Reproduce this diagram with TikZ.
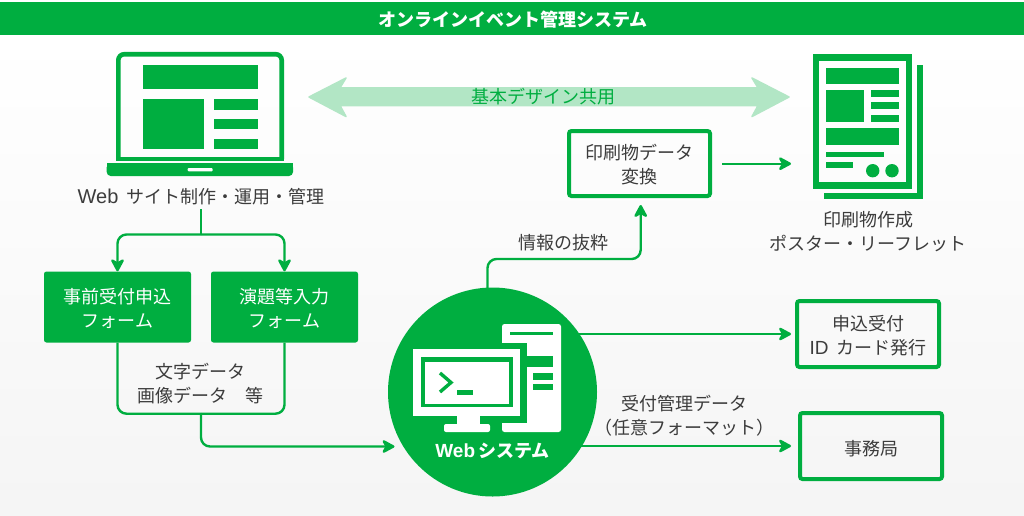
\documentclass[tikz,border=0pt]{standalone}
\usepackage{fontspec}
\setmainfont{Noto Sans CJK JP}
\newfontfamily\latinface{Liberation Sans}
\usetikzlibrary{arrows.meta}
\definecolor{brandgreen}{HTML}{00AE40}
\definecolor{palegreen}{HTML}{B2E6C5}
\definecolor{inktext}{HTML}{3C3C3C}
% taller first line: sets a multi-line label about a point lower in its box
\newcommand{\firstlinedrop}{\rule{0pt}{18pt}}
\tikzset{
  x=1pt,y=-1pt,
  arrowtip/.style={-{Stealth[length=15pt,width=16pt,inset=4.5pt,round]}},
  plainconn/.style={draw=brandgreen,line width=2.4pt,rounded corners=9pt},
  conn/.style={plainconn,arrowtip},
  formbox/.style={fill=brandgreen,rounded corners=2.5pt,minimum width=147pt,minimum height=71pt,text=white,font=\fontsize{18}{24}\selectfont,align=center,inner sep=0pt},
  outbox/.style={draw=brandgreen,line width=4pt,rounded corners=2.5pt,text=inktext,font=\fontsize{18}{24}\selectfont,align=center,inner sep=0pt,outer sep=0pt},
  lbl/.style={text=inktext,font=\fontsize{18}{24}\selectfont,align=center,inner sep=0pt},
}
\begin{document}
\begin{tikzpicture}
\useasboundingbox (0,0) rectangle (1024,515);
% page background and title band
\fill[white] (0,0) rectangle (1024,515);
\shade[top color=white,bottom color=black!4] (0,36) rectangle (1024,515);
\fill[brandgreen] (0,2) rectangle (1024,35);
\node[text=white,font=\fontsize{18}{20}\selectfont\bfseries,inner sep=0pt] (title) at (513,19.5) {オンラインイベント管理システム};

% laptop icon
\draw[brandgreen,line width=4.6pt,rounded corners=6pt] (118.3,159) -- (118.3,54.2) -- (281.7,54.2) -- (281.7,159);
\fill[brandgreen] (116,156.7) rectangle (284,160.7);
\fill[brandgreen,rounded corners=4pt] (106.7,163.3) -- (293,163.3) -- (293,176) -- (106.7,176) -- cycle;
\fill[brandgreen] (106.7,163.3) rectangle (293,168);
\fill[white,rounded corners=1pt] (187.7,168) rectangle (212.7,171.3);
\fill[brandgreen] (143,65) rectangle (258,89.3);
\fill[brandgreen] (143,99) rectangle (203.5,149);
\fill[brandgreen] (214,99) rectangle (258,109.5);
\fill[brandgreen] (214,119) rectangle (258,129);
\fill[brandgreen] (214,138.5) rectangle (258,149);
\node[lbl] (webops) at (201,197) {{\latinface\fontsize{20}{24}\selectfont Web}\hspace{8pt}サイト制作・運用・管理};

% shared design arrow
\fill[palegreen,draw=palegreen,line width=1.5pt,line join=round] (309,97) -- (346,78) -- (340,87.8) -- (758,87.8) -- (752,78) -- (789,97) -- (752,116.5) -- (758,105.5) -- (340,105.5) -- (346,116.5) -- cycle;
\node[text=brandgreen,font=\fontsize{18}{20}\selectfont,inner sep=0pt] (shared) at (543,97) {基本デザイン共用};

% printed matter icon
\draw[brandgreen,line width=6.4pt] (816,57.3) rectangle (908.8,185.5);
\fill[brandgreen] (916.7,65) rectangle (922.7,199.3);
\fill[brandgreen] (824,193.3) rectangle (922.7,199.3);
\fill[brandgreen] (826,68.3) rectangle (898.7,84);
\fill[brandgreen] (826,90) rectangle (864.3,121.7);
\fill[brandgreen] (870.7,90) rectangle (898.7,96.7);
\fill[brandgreen] (870.7,102.3) rectangle (898.7,109);
\fill[brandgreen] (870.7,115) rectangle (898.7,121.7);
\fill[brandgreen] (826,127.7) rectangle (898.7,145.3);
\fill[brandgreen] (826,151.7) rectangle (884.3,157);
\fill[brandgreen] (826,162.3) rectangle (852.7,167.7);
\fill[brandgreen] (872.7,170.7) circle (6.7);
\fill[brandgreen] (892,170.7) circle (6.7);
\node[lbl] (printlabel) at (868,232) {印刷物作成\\ポスター・リーフレット};

% entry forms and the flows around them
\node[formbox] (pre) at (117.5,307) {\firstlinedrop 事前受付申込\\フォーム};
\node[formbox] (abs) at (284.5,307) {\firstlinedrop 演題等入力\\フォーム};
\coordinate (webopsfoot) at (201,209);
\coordinate (split) at (201,234.5);
\draw[plainconn] (webopsfoot) -- (split);
\draw[conn] (split) -- (117.5,234.5) -- (pre.north);
\draw[conn] (split) -- (284.5,234.5) -- (abs.north);
\coordinate (merge) at (201,413.7);
\draw[plainconn] (pre.south) -- (117.5,413.7) -- (merge);
\draw[plainconn] (abs.south) -- (284.5,413.7) -- (merge);
\node[lbl] (data) at (200,384) {文字データ\\画像データ　等};

% central system disc with desktop computer icon
\node[circle,fill=brandgreen,minimum size=209pt,inner sep=0pt,outer sep=0pt] (sys) at (492.5,392) {};
\coordinate (sysin) at (394.5,446.5);
\draw[conn] (merge) -- (201,446.5) -- (sysin);
\fill[white,rounded corners=2.5pt] (502,324) rectangle (561,432);
\fill[brandgreen] (502,343) rectangle (526.7,423);
\fill[brandgreen] (510,332) rectangle (552.5,335.3);
\fill[brandgreen] (526.5,356.3) rectangle (553,367);
\fill[brandgreen] (532.7,373) rectangle (553,379.7);
\fill[brandgreen] (532.7,383.7) rectangle (553,389.7);
\fill[white] (413,349) rectangle (520,416);
\fill[brandgreen] (421,357) rectangle (512.7,407);
\fill[white] (425,362) rectangle (509,403.5);
\fill[white] (457,416) rectangle (480,425);
\fill[white,rounded corners=2pt] (444,424) rectangle (490,432);
\draw[brandgreen,line width=3.4pt] (440,373) -- (451,382.5) -- (440,392);
\fill[brandgreen] (457,390) rectangle (473,395);
\node[text=white,font=\fontsize{18}{20}\selectfont\bfseries,inner sep=0pt] (syslabel) at (492.5,450.5) {{\latinface\fontsize{19}{20}\selectfont\bfseries Web}\hspace{3pt}システム};

% print conversion and output boxes
\node[outbox,minimum width=141pt,minimum height=65pt] (conv) at (639.5,163.5) {\firstlinedrop 印刷物データ\\変換};
\coordinate (convout) at (722,163.7);
\coordinate (iconin) at (791,163.7);
\draw[conn] (convout) -- (iconin);
\coordinate (sysup) at (487.5,289);
\coordinate (convin) at (640.7,205);
\draw[conn] (sysup) -- (487.5,259) -- (640.7,259) -- (convin);
\node[lbl] (extract) at (563,243) {情報の抜粋};
\node[outbox,minimum width=142pt,minimum height=66pt] (idcard) at (868,334) {\firstlinedrop 申込受付\\{\latinface\fontsize{19}{24}\selectfont ID}\hspace{8pt}カード発行};
\node[outbox,minimum width=142pt,minimum height=66pt] (office) at (871,446) {\rule{0pt}{20pt}事務局};
\coordinate (sysright) at (578,334);
\coordinate (idin) at (791,334);
\coordinate (sysrightlow) at (580,446);
\coordinate (officein) at (791,446);
\draw[conn] (sysright) -- (idin);
\draw[conn] (sysrightlow) -- (officein);
\node[lbl] (recv) at (684,416) {受付管理データ\\（任意フォーマット）};
\end{tikzpicture}
\end{document}
